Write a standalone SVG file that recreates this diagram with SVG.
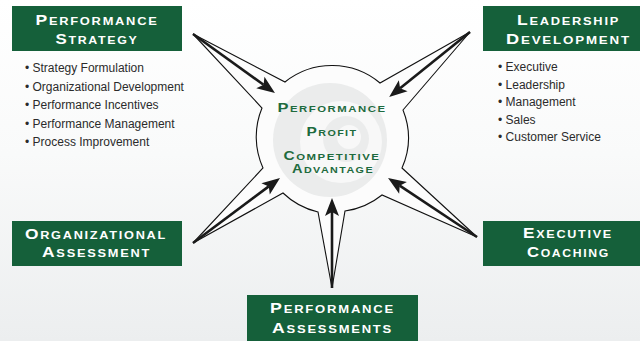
<svg xmlns="http://www.w3.org/2000/svg" width="640" height="341" viewBox="0 0 640 341">
<defs>
<linearGradient id="bg" x1="0" y1="0" x2="0" y2="1">
<stop offset="0" stop-color="#ffffff"/>
<stop offset="0.45" stop-color="#f9fafa"/>
<stop offset="1" stop-color="#eceeef"/>
</linearGradient>
<marker id="ah" markerUnits="userSpaceOnUse" markerWidth="18" markerHeight="14" refX="4" refY="7" orient="auto" overflow="visible">
<path d="M0,0 L18,7 L0,14 L4,7 Z" fill="#1a1a1a"/>
</marker>
<style>
.box{fill:#15603a;}
.bt{font-family:"Liberation Sans",Arial,sans-serif;font-weight:bold;font-variant:small-caps;font-size:15px;letter-spacing:1.5px;fill:#ffffff;text-anchor:middle;}
.ct{font-family:"Liberation Sans",Arial,sans-serif;font-weight:bold;font-variant:small-caps;font-size:13px;letter-spacing:1.2px;fill:#1e6b3e;text-anchor:middle;}
.cs{font-size:12.2px;}
.li{font-family:"Liberation Sans",Arial,sans-serif;font-size:12px;fill:#2b2b2b;}
.arrow{stroke:#1a1a1a;stroke-width:2.6;fill:none;marker-end:url(#ah);}
</style>
</defs>
<rect x="0" y="0" width="640" height="341" fill="url(#bg)"/>

<g id="hub">
<path d="M285,82 A75,75 0 0 1 380,83 L470,32 L403,110 A75,75 0 0 1 402,168 L477,237 L382,195 A75,75 0 0 1 345,211 L332,288 L318,212 A75,75 0 0 1 283,193 L193,243 L263,168 A75,75 0 0 1 262,108 L193,34 Z" fill="#fcfcfc" stroke="#111111" stroke-width="1.1" stroke-linejoin="miter"/>
<circle cx="330" cy="140" r="57" fill="#ebecec"/>
<circle cx="341" cy="142" r="41" fill="#f8f8f8"/>
<circle cx="346" cy="139" r="23" fill="#ebecec"/>
<circle cx="349" cy="137" r="12" fill="#f8f8f8"/>
<text class="ct" x="332" y="112.3" textLength="109" lengthAdjust="spacingAndGlyphs">Performance</text>
<text class="ct" x="332" y="135.7" textLength="51" lengthAdjust="spacingAndGlyphs">Profit</text>
<text class="ct cs" x="332" y="159.5" textLength="97" lengthAdjust="spacingAndGlyphs">Competitive</text>
<text class="ct cs" x="333" y="173" textLength="82" lengthAdjust="spacingAndGlyphs">Advantage</text>
</g>

<g id="connectors">
<line class="arrow" x1="193" y1="34" x2="263.6" y2="84.8"/>
<line class="arrow" x1="470" y1="32" x2="400.1" y2="88.2"/>
<line class="arrow" x1="193" y1="243" x2="268.8" y2="186.4"/>
<line class="arrow" x1="477" y1="237" x2="399.7" y2="185.7"/>
<line class="arrow" x1="332" y1="288" x2="332" y2="212"/>
</g>

<g id="performance-strategy">
<rect class="box" x="12" y="6" width="170" height="45"/>
<text class="bt" x="97" y="25" textLength="123" lengthAdjust="spacingAndGlyphs">Performance</text>
<text class="bt" x="97" y="44.3" textLength="83" lengthAdjust="spacingAndGlyphs">Strategy</text>
<text class="li" x="25" y="72">• Strategy Formulation</text>
<text class="li" x="25" y="90.5">• Organizational Development</text>
<text class="li" x="25" y="109">• Performance Incentives</text>
<text class="li" x="25" y="127.5">• Performance Management</text>
<text class="li" x="25" y="146">• Process Improvement</text>
</g>

<g id="leadership-development">
<rect class="box" x="483" y="6" width="170" height="45"/>
<text class="bt" x="568.5" y="25" textLength="103" lengthAdjust="spacingAndGlyphs">Leadership</text>
<text class="bt" x="568.5" y="43.5" textLength="125" lengthAdjust="spacingAndGlyphs">Development</text>
<text class="li" x="498" y="71">• Executive</text>
<text class="li" x="498" y="89">• Leadership</text>
<text class="li" x="498" y="106">• Management</text>
<text class="li" x="498" y="123.5">• Sales</text>
<text class="li" x="498" y="141">• Customer Service</text>
</g>

<g id="organizational-assessment">
<rect class="box" x="12" y="221" width="170" height="45"/>
<text class="bt" x="96" y="238.5" textLength="142" lengthAdjust="spacingAndGlyphs">Organizational</text>
<text class="bt" x="96.5" y="257.3" textLength="109" lengthAdjust="spacingAndGlyphs">Assessment</text>
</g>

<g id="executive-coaching">
<rect class="box" x="483" y="221" width="170" height="45"/>
<text class="bt" x="568" y="238.3" textLength="90" lengthAdjust="spacingAndGlyphs">Executive</text>
<text class="bt" x="568.5" y="257.3" textLength="83" lengthAdjust="spacingAndGlyphs">Coaching</text>
</g>

<g id="performance-assessments">
<rect class="box" x="247" y="295" width="171" height="50"/>
<text class="bt" x="332.5" y="313.3" textLength="125" lengthAdjust="spacingAndGlyphs">Performance</text>
<text class="bt" x="332.5" y="332.7" textLength="121" lengthAdjust="spacingAndGlyphs">Assessments</text>
</g>
</svg>
